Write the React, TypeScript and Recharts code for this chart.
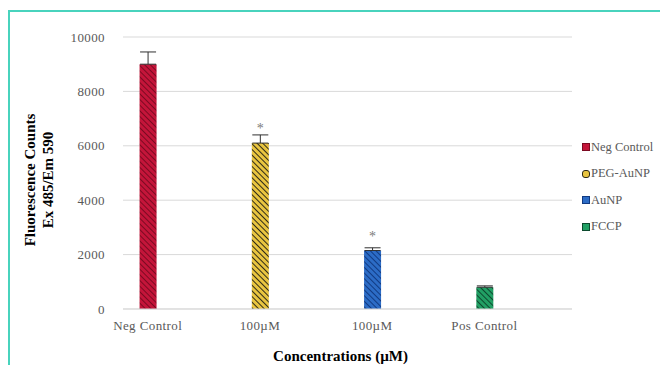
import React from "react";
import {
    BarChart,
    Bar,
    XAxis,
    YAxis,
    CartesianGrid,
    Legend,
    ErrorBar,
    LabelList,
} from 'recharts';

const categories = ["Neg Control", "100µM", "100µM", "Pos Control"];
const seriesNames = ["Neg Control", "PEG-AuNP", "AuNP", "FCCP"];
const values = [9000, 6100, 2150, 800];
const errors = [450, 300, 100, 50];
const marks = ["", "*", "*", ""];
const yTicks = [0, 2000, 4000, 6000, 8000, 10000];

const colors = [
    {base: "#c4153a", stripe: "#7c0a22"},
    {base: "#e9c540", stripe: "#2e2a18"},
    {base: "#2c6cc6", stripe: "#113a82"},
    {base: "#21a064", stripe: "#0c4a2e"},
];

// x is the category index, the axis shows the category name
const data = categories.map((c, i) => {
    const row: any = {x: i, name: c};
    row["s" + i] = values[i];
    row["e" + i] = [0, errors[i]];
    row["m" + i] = marks[i];
    return row;
});

const serif = '"Liberation Serif", "DejaVu Serif", serif';

const YLabel = () => {
    const cy = 180;
    return (
        <text transform={`rotate(-90, 0, ${cy})`} x={0} y={cy} textAnchor="middle"
              fontFamily={serif} fontWeight="bold" fontSize={15} fill="#000">
            <tspan x={0} dy={35}>Fluorescence Counts</tspan>
            <tspan x={0} dy={18}>Ex 485/Em 590</tspan>
        </text>
    );
};

const LegendBox = () => (
    <div style={{fontFamily: serif, fontSize: 12.5, color: "#595959"}}>
        {seriesNames.map((n, i) => (
            <div key={n} style={{display: "flex", alignItems: "center", height: 26.5, whiteSpace: "nowrap"}}>
                <span style={{
                    display: "inline-block", width: 6, height: 6, marginRight: 1,
                    borderRadius: i === 1 ? 3 : 0,
                    background: colors[i].base,
                    border: `1px solid ${colors[i].stripe}`
                }}/>
                {n}
            </div>
        ))}
    </div>
);

const tickStyle = {fontFamily: serif, fontSize: 13, fill: "#595959", letterSpacing: 0.4};

export default function App() {
    return (
        <div style={{position: "absolute", left: 0, top: 0, width: 660, height: 365, background: "#fff"}}>
            <div style={{
                position: "absolute", left: 8, top: 10, width: 652, height: 355,
                borderLeft: "2px solid #48d3bd", borderTop: "2px solid #48d3bd"
            }}/>
            <BarChart width={660} height={365} data={data}
                      margin={{top: 37, right: 8, bottom: 0, left: 0}}>
                <defs>
                    {colors.map((c, i) => (
                        <pattern key={i} id={"hatch" + i} width={4} height={4}
                                 patternUnits="userSpaceOnUse" patternTransform="rotate(-45)">
                            <rect width={4} height={4} fill={c.base}/>
                            <line x1={0} y1={0} x2={0} y2={4} stroke={c.stripe} strokeWidth={2}/>
                        </pattern>
                    ))}
                </defs>
                <CartesianGrid vertical={false} stroke="#d9d9d9"/>
                <XAxis dataKey="x" type="number" domain={[-0.22, 3.78]} ticks={[0, 1, 2, 3]}
                       tickFormatter={(v: number) => categories[v]}
                       height={56} tickLine={false} axisLine={{stroke: "#d9d9d9"}}
                       tick={tickStyle} tickMargin={6}
                       label={{value: "Concentrations (µM)", position: "insideBottom", offset: 4,
                           dx: -7, fontFamily: serif, fontWeight: "bold", fontSize: 15, fill: "#000"}}/>
                <YAxis width={123} domain={[0, 10000]} ticks={yTicks} tickLine={false} axisLine={false}
                       tick={tickStyle} tickMargin={12}
                       label={<YLabel/>}/>
                <Legend layout="vertical" align="right" verticalAlign="top" content={<LegendBox/>}
                        wrapperStyle={{left: 582, top: 134, width: 80}}/>
                {seriesNames.map((n, i) => (
                    <Bar key={n} name={n} dataKey={"s" + i} stackId="a" barSize={17}
                         fill={`url(#hatch${i})`} isAnimationActive={false}>
                        <ErrorBar dataKey={"e" + i} width={8} stroke="#303030" strokeWidth={1}/>
                        <LabelList dataKey={"m" + i} position="top" offset={10}
                                   style={{fontFamily: serif, fontSize: 14, fill: "#7a7a7a"}}/>
                    </Bar>
                ))}
            </BarChart>
        </div>
    );
}
